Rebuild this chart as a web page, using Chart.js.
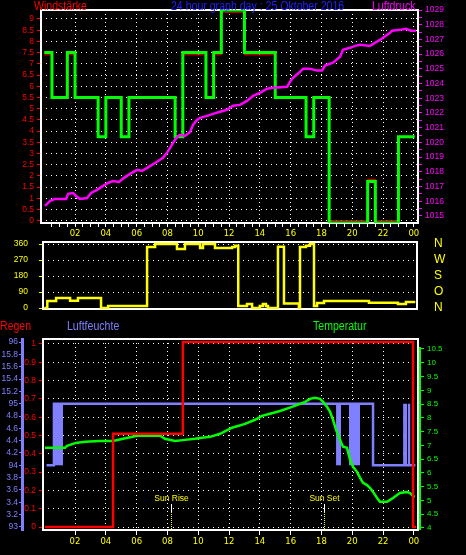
<!DOCTYPE html>
<html>
<head>
<meta charset="utf-8">
<title>24 hour graph</title>
<script src="https://cdn.jsdelivr.net/npm/chart.js@4.4.1/dist/chart.umd.min.js"></script>
<style>
  body { margin: 0; background: #000; }
  #wrap { position: relative; width: 466px; height: 555px; overflow: hidden; background: #000; }
  canvas { position: absolute; left: 0; }
  .t { position: absolute; z-index: 2; font: 12px/12px 'Liberation Sans', Arial, sans-serif; white-space: nowrap; transform: scaleX(0.88); transform-origin: 0 0; }
</style>
</head>
<body>
<div id="wrap">
  <canvas id="wind" width="466" height="240" style="top:0"></canvas>
  <canvas id="dir" width="466" height="107" style="top:222px"></canvas>
  <canvas id="weather" width="466" height="225" style="top:330px"></canvas>
  <div class="t" style="left:34px;top:0;color:#ff0000">Windstärke</div>
  <div class="t" style="left:171px;top:0;color:#2020ff">24 hour graph day : 25 Oktober 2016</div>
  <div class="t" style="left:372px;top:0;color:#ff00ff">Luftdruck</div>
  <div class="t" style="left:0;top:320px;color:#ff0000">Regen</div>
  <div class="t" style="left:67px;top:320px;color:#8080ff">Luftfeuchte</div>
  <div class="t" style="left:313px;top:320px;color:#00ff00">Temperatur</div>
</div>
<script>
// all times are hours since midnight
const hourLabels = ['02', '04', '06', '08', '10', '12', '14', '16', '18', '20', '22', '00'];

// Windstaerke: green = max, red = mean (each value holds until the next hour)
const windHours = [0, 0.5, 1.5, 2.0, 3.5, 4.0, 5.0, 5.5, 8.5, 9.0, 10.5, 11.0, 11.5, 13.0, 15.0, 17.0, 17.5, 18.5, 21.0, 21.5, 23.0, 24.05];
const windMax = [7.5, 5.5, 7.5, 5.5, 3.75, 5.5, 3.75, 5.5, 3.75, 7.5, 5.5, 7.5, 9.4, 7.5, 5.5, 3.75, 5.5, -0.1, 1.75, -0.1, 3.75, 3.75];
const windMean = [7.4, 5.5, 7.4, 5.5, 3.75, 5.5, 3.75, 5.5, 3.75, 7.4, 5.5, 7.4, 9.3, 7.4, 5.5, 3.75, 5.5, 0, 1.85, 0, 3.75, 3.75];

// Luftdruck (hPa)
const pressHours = [0.05, 0.38, 0.7, 1.42, 1.55, 1.87, 2.06, 2.32, 2.78, 3.04, 3.43, 3.82, 4.14, 4.47, 4.86, 5.18, 5.57, 6.03, 6.35, 6.68,
  7.32, 7.71, 7.97, 8.17, 8.36, 8.62, 8.82, 9.14, 9.47, 9.66, 9.92, 10.12, 10.57, 10.96, 11.42, 11.87, 12.26, 12.71, 13.17, 13.56,
  14.01, 14.47, 14.86, 15.77, 15.96, 16.16, 16.61, 16.81, 17.26, 17.71, 18.04, 18.23, 18.75, 19.21, 19.4, 19.86, 20.18, 20.51,
  21.16, 21.48, 21.8, 22.0, 22.45, 22.58, 23.1, 23.49, 23.81, 24.13];
const pressVals = [1015.68, 1016.02, 1016.16, 1016.16, 1016.5, 1016.56, 1016.36, 1016.16, 1016.22, 1016.56, 1016.77, 1017.04, 1017.24,
  1017.38, 1017.31, 1017.59, 1017.86, 1018.13, 1018.06, 1018.27, 1018.68, 1018.95, 1019.29, 1019.63, 1019.97, 1020.37, 1020.51,
  1020.44, 1020.71, 1021.19, 1021.53, 1021.67, 1021.8, 1021.94, 1022.08, 1022.22, 1022.49, 1022.55, 1022.82, 1023.16, 1023.37,
  1023.65, 1023.71, 1023.78, 1024.12, 1024.39, 1024.8, 1025.01, 1025.01, 1024.88, 1024.88, 1025.22, 1025.42, 1025.82, 1026.29,
  1026.43, 1026.56, 1026.63, 1026.56, 1026.77, 1026.97, 1027.11, 1027.45, 1027.59, 1027.65, 1027.72, 1027.59, 1027.59];

// Windrichtung (degrees)
const dirHours = [0, 0.2, 0.77, 1.68, 2.19, 3.69, 4.15, 6.68, 7.2, 8.62, 9.14, 10.12, 10.31, 11.09, 12.2, 12.4, 12.6, 13.17, 13.5,
  14.0, 14.2, 14.4, 14.53, 15.18, 15.57, 16.54, 16.61, 17.0, 17.26, 17.52, 17.72, 18.17, 21.09, 22.97, 23.49, 24.1];
const dirVals = [0, 39, 56, 41, 56, 0, 11, 343, 360, 332, 360, 337, 360, 337, 343, 350, 11, 22, 0,
  11, 22, 11, 0, 345, 25, 0, 343, 350, 360, 11, 28, 39, 30, 23, 34, 34];
const dirLabels = ['N', 'O', 'S', 'W', 'N'];

// Luftfeuchte (%), line plus blocks where it flickers between 94 and 95
const humHours = [0.15, 0.63, 21.35, 24.1];
const humVals = [94, 95, 94, 94];
const humBlockFrom = [0.63, 18.95, 19.79, 23.3, 23.62];
const humBlockTo = [1.22, 19.27, 20.51, 23.58, 23.78];
const humLabels = ['93', '3.2', '3.4', '3.6', '3.8', '94', '4.2', '4.4', '4.6', '4.8', '95', '15.2', '15.4', '15.6', '15.8', '96'];

// Temperatur (C)
const tempHours = [0.05, 1.35, 1.48, 2.06, 2.65, 3.62, 4.47, 5.12, 6.03, 7.52, 7.84, 8.49, 9.14, 9.79, 10.12, 10.77, 11.42, 12.19,
  13.04, 13.69, 14.14, 14.66, 15.31, 16.09, 16.61, 16.94, 17.26, 17.58, 17.91, 18.11, 18.36, 18.56, 18.75, 18.95, 19.21, 19.4,
  19.66, 19.86, 20.05, 20.31, 20.51, 20.7, 20.96, 21.16, 21.35, 21.61, 21.8, 22.26, 22.45, 22.65, 22.91, 23.1, 23.56, 23.75, 23.94, 24.07];
const tempVals = [6.91, 6.91, 6.98, 7.09, 7.13, 7.16, 7.16, 7.24, 7.35, 7.35, 7.24, 7.16, 7.2, 7.24, 7.27, 7.31, 7.42, 7.64,
  7.78, 7.93, 8.07, 8.15, 8.25, 8.4, 8.51, 8.58, 8.69, 8.73, 8.69, 8.58, 8.4, 8.22, 7.93, 7.56, 7.2, 6.95,
  6.91, 6.47, 6.22, 6.04, 5.82, 5.64, 5.56, 5.45, 5.31, 5.09, 4.95, 4.95, 5.02, 5.09, 5.2, 5.27, 5.31, 5.27, 5.16, 5.13];

// Regen (mm)
const rainHours = [0.05, 4.47, 9.0, 23.95, 24.15];
const rainVals = [0, 0.51, 1.01, 0, 0];

const sunNames = ['Sun Rise', 'Sun Set'];
const sunHours = [8.23, 18.17];

const pts = (xs, ys) => xs.map((x, i) => ({ x, y: ys[i] }));
const fnt = (size, family = 'Liberation Sans') => ({ family, size });
const fixW = (w) => (s) => { s.width = w; };
const fixH = (h) => (s) => { s.height = h; };
const hourLabel = (v) => (v > 0 && v % 2 === 0 ? hourLabels[v / 2 - 1] : '');
const steps = (from, to, step) => {
  const out = [];
  for (let v = from; v <= to + 1e-9; v += step) out.push({ value: Math.round(v * 1000) / 1000 });
  return out;
};
const setTicks = (list) => (s) => { s.ticks = list; };

Chart.defaults.animation = false;
Chart.defaults.events = [];
Chart.defaults.font.family = 'Liberation Sans';
Chart.defaults.plugins.legend.display = false;
Chart.defaults.plugins.tooltip.enabled = false;
Chart.defaults.elements.point.radius = 0;

// white box round the plot area, drawn under the data
const frame = {
  id: 'frame',
  beforeDatasetsDraw(chart, args, opts) {
    const { ctx, chartArea: a } = chart;
    ctx.save();
    ctx.strokeStyle = '#ffffff';
    ctx.lineWidth = 2;
    ctx.strokeRect(a.left, a.top, a.right - a.left, a.bottom - a.top);
    if (opts.rightLine) {
      ctx.strokeStyle = opts.rightLine;
      ctx.beginPath();
      ctx.moveTo(a.right + 2, a.top + 8);
      ctx.lineTo(a.right + 2, a.bottom);
      ctx.stroke();
    }
    ctx.restore();
  },
};

// sunrise / sunset markers
const sunMarks = {
  id: 'sunMarks',
  afterDatasetsDraw(chart) {
    const { ctx, chartArea: a, scales: { x } } = chart;
    sunNames.forEach((name, i) => {
      const px = Math.round(x.getPixelForValue(sunHours[i])) + 0.5;
      ctx.save();
      ctx.fillStyle = '#ffff00';
      ctx.font = "8.5px 'Liberation Sans'";
      ctx.textAlign = 'center';
      ctx.fillText(name, px, a.bottom - 29);
      ctx.strokeStyle = '#ffffff';
      ctx.lineWidth = 1;
      ctx.beginPath();
      ctx.moveTo(px, a.bottom - 26);
      ctx.lineTo(px, a.bottom - 18);
      ctx.stroke();
      ctx.strokeStyle = '#ffff00';
      ctx.setLineDash([1, 1]);
      ctx.beginPath();
      ctx.moveTo(px, a.bottom - 18);
      ctx.lineTo(px, a.bottom);
      ctx.stroke();
      ctx.restore();
    });
  },
};

// Top: Windstaerke + Luftdruck
// eslint-disable-next-line no-new
new Chart(document.getElementById('wind'), {
  type: 'line',
  data: {
    datasets: [
      { data: pts(pressHours, pressVals), yAxisID: 'yP', borderColor: '#ff00ff', borderWidth: 2.5 },
      { data: pts(windHours, windMax), yAxisID: 'yW', borderColor: '#00ff00', borderWidth: 3, stepped: 'before' },
      { data: pts(windHours, windMean), yAxisID: 'yW', borderColor: '#ff0000', borderWidth: 1, stepped: 'before' },
    ],
  },
  options: {
    responsive: false,
    layout: { padding: { top: 10 } },
    plugins: { frame: {} },
    scales: {
      x: {
        type: 'linear',
        min: -0.21,
        max: 24.27,
        afterBuildTicks: setTicks(steps(0.5, 24, 0.5)),
        afterFit: fixH(17),
        ticks: { color: '#ffff00', font: fnt(8.5, 'DejaVu Sans'), padding: 2, autoSkip: false, maxRotation: 0, callback: hourLabel },
        grid: { color: (c) => (c.tick && c.tick.value % 2 === 0 ? '#ffffff' : 'rgba(0,0,0,0)'), tickColor: '#ffffff', tickLength: 4 },
        border: { display: false, dash: [1, 3] },
      },
      yW: {
        position: 'left',
        min: -0.1,
        max: 9.4,
        afterBuildTicks: setTicks(steps(0, 9, 0.5)),
        afterFit: fixW(41),
        ticks: { autoSkip: false, color: '#ff0000', font: fnt(8.5), padding: 3, callback: (v) => String(v) },
        grid: { color: '#ffffff', tickColor: '#ff0000', tickLength: 4 },
        border: { display: false, dash: [1, 4] },
      },
      yP: {
        position: 'right',
        min: 1014.52,
        max: 1029,
        afterBuildTicks: setTicks(steps(1015, 1029, 0.5)),
        afterFit: fixW(48),
        ticks: { autoSkip: false, color: '#ff00ff', font: fnt(8.5), padding: 3, callback: (v) => (Number.isInteger(v) ? String(v) : '') },
        grid: { drawOnChartArea: false, tickColor: '#ff00ff', tickLength: 4 },
        border: { display: false },
      },
    },
  },
  plugins: [frame],
});

// Middle: Windrichtung
// eslint-disable-next-line no-new
new Chart(document.getElementById('dir'), {
  type: 'line',
  data: {
    datasets: [
      { data: pts(dirHours, dirVals), yAxisID: 'yD', borderColor: '#ffff00', borderWidth: 2.5, stepped: 'before' },
    ],
  },
  options: {
    responsive: false,
    layout: { padding: { top: 20, bottom: 20 } },
    plugins: { frame: {} },
    scales: {
      x: { type: 'linear', min: -0.08, max: 24.21, display: false },
      yD: {
        position: 'left',
        min: -5.6,
        max: 371.25,
        afterBuildTicks: setTicks(steps(0, 360, 90)),
        afterFit: fixW(43),
        ticks: { autoSkip: false, color: '#ffff00', font: fnt(8.5), padding: 11 },
        grid: { color: '#ffffff', tickColor: '#ffff00', tickLength: 4 },
        border: { display: false, dash: [1, 4] },
      },
      yN: {
        position: 'right',
        min: -5.6,
        max: 371.25,
        afterBuildTicks: setTicks(steps(0, 360, 90)),
        afterFit: fixW(49),
        ticks: { autoSkip: false, color: '#ffff00', font: fnt(12), padding: 0, callback: (v) => dirLabels[v / 90] },
        grid: { drawOnChartArea: false, tickColor: 'rgba(0,0,0,0)', tickLength: 17 },
        border: { display: false },
      },
    },
  },
  plugins: [frame],
});

// Bottom: Regen, Luftfeuchte, Temperatur
const blockSets = humBlockFrom.map((from, i) => ({
  data: [{ x: from, y: 95 }, { x: humBlockTo[i], y: 95 }],
  yAxisID: 'yH',
  borderWidth: 0,
  backgroundColor: '#8080ff',
  fill: { value: 94 },
}));

// eslint-disable-next-line no-new
new Chart(document.getElementById('weather'), {
  type: 'line',
  data: {
    datasets: [
      { data: pts(rainHours, rainVals), yAxisID: 'yR', borderColor: '#ff0000', borderWidth: 2.5, stepped: 'before' },
      { data: pts(tempHours, tempVals), yAxisID: 'yT', borderColor: '#00ff00', borderWidth: 2.5 },
      { data: pts(humHours, humVals), yAxisID: 'yH', borderColor: '#8080ff', borderWidth: 2.5, stepped: 'before' },
      ...blockSets,
    ],
  },
  options: {
    responsive: false,
    layout: { padding: { top: 9 } },
    plugins: { frame: { rightLine: '#00ff00' } },
    scales: {
      x: {
        type: 'linear',
        min: -0.08,
        max: 24.27,
        afterBuildTicks: setTicks(steps(2, 24, 2)),
        afterFit: fixH(25),
        ticks: { color: '#ffff00', font: fnt(8.5, 'DejaVu Sans'), padding: 2, autoSkip: false, maxRotation: 0, callback: hourLabel },
        grid: { color: '#ffffff', tickColor: '#ffffff', tickLength: 5 },
        border: { display: false, dash: [1, 3] },
      },
      yR: {
        position: 'left',
        weight: 0,
        min: -0.016,
        max: 1.027,
        afterBuildTicks: setTicks(steps(0, 1, 0.1)),
        afterFit: fixW(21),
        ticks: { autoSkip: false, color: '#ff0000', font: fnt(8.5), padding: 3, callback: (v) => String(Math.round(v * 10) / 10) },
        grid: { color: '#ffffff', tickColor: '#ff0000', tickLength: 4 },
        border: { display: false, dash: [1, 4] },
      },
      yH: {
        position: 'left',
        weight: 1,
        min: 92.95,
        max: 96.05,
        afterBuildTicks: setTicks(steps(93, 96, 0.2)),
        afterFit: fixW(22),
        ticks: { autoSkip: false, color: '#8080ff', font: fnt(8.5), padding: 1, callback: (v) => humLabels[Math.round((v - 93) / 0.2)] },
        grid: { drawOnChartArea: false, tickColor: '#8080ff', tickLength: 3 },
        border: { display: true, color: '#8080ff', width: 3 },
      },
      yT: {
        position: 'right',
        min: 3.927,
        max: 10.863,
        afterBuildTicks: setTicks(steps(4, 10.5, 0.5)),
        afterFit: fixW(48),
        ticks: { autoSkip: false, color: '#00ff00', font: fnt(8), padding: 3, callback: (v) => String(v) },
        grid: { drawOnChartArea: false, tickColor: '#00ff00', tickLength: 6 },
        border: { display: false },
      },
    },
  },
  plugins: [frame, sunMarks],
});
</script>
</body>
</html>
